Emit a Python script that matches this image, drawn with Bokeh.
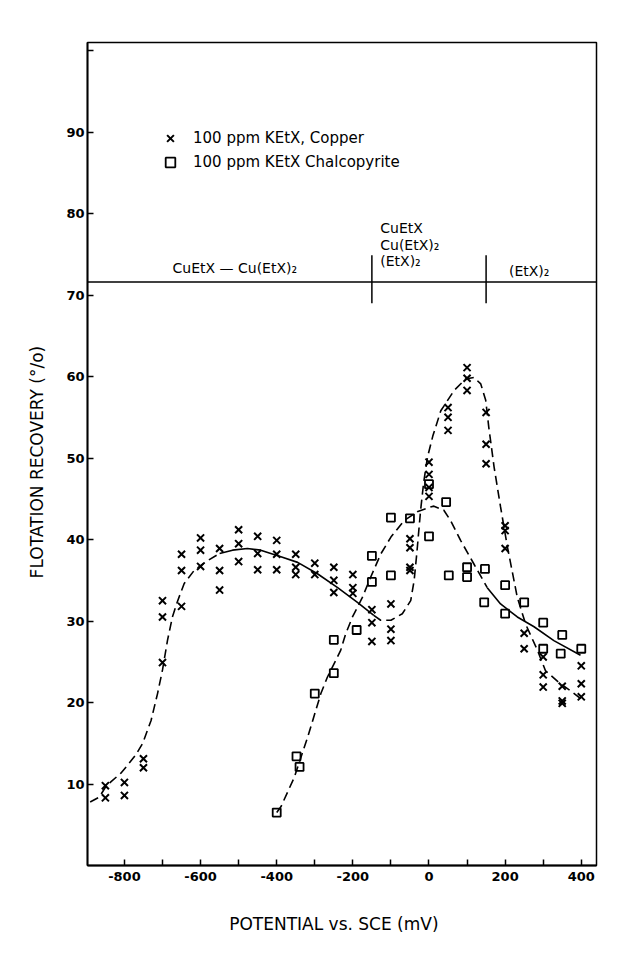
from bokeh.plotting import figure
from bokeh.models import Range1d, FixedTicker, Span, Legend, LegendItem, Label
from bokeh.embed import file_html
from bokeh.resources import INLINE

# ---------------- data ----------------
# Copper, 100 ppm KEtX  (potential mV, recovery %)
cu_x = [-850, -850, -800, -800, -750, -750,
        -700, -700, -700, -650, -650, -650, -600, -600, -600,
        -550, -550, -550, -500, -500, -500, -450, -450, -450,
        -400, -400, -400, -350, -350, -350, -300, -300,
        -250, -250, -250, -200, -200, -200, -150, -150, -150,
        -100, -100, -100, -50, -50, -50, -50, 0, 0, 0, 0,
        50, 50, 50, 100, 100, 100, 150, 150, 150, 200, 200, 200,
        250, 250, 300, 300, 300, 350, 350, 350, 400, 400, 400]
cu_y = [9.8, 8.3, 10.2, 8.6, 13.1, 12.0,
        32.5, 30.5, 24.9, 38.2, 36.2, 31.8, 40.2, 38.7, 36.7,
        38.9, 36.2, 33.8, 41.2, 39.5, 37.3, 40.4, 38.3, 36.3,
        39.9, 38.2, 36.3, 38.2, 36.6, 35.7, 37.1, 35.7,
        36.6, 35.0, 33.5, 35.7, 34.1, 33.4, 31.4, 29.8, 27.5,
        32.1, 29.0, 27.6, 40.1, 39.0, 36.6, 36.2, 49.5, 48.0, 46.4, 45.3,
        56.2, 55.0, 53.4, 61.1, 59.8, 58.3, 55.6, 51.7, 49.3, 41.7, 41.1, 38.9,
        28.5, 26.6, 25.6, 23.4, 21.9, 22.0, 20.2, 19.9, 24.5, 22.3, 20.7]

# Chalcopyrite, 100 ppm KEtX
ch_x = [-400, -348, -340, -300, -250, -250, -190, -150, -150,
        -100, -100, -50, 0, 0, 45, 52, 100, 100, 147,
        145, 200, 200, 250, 300, 300, 350, 346, 400]
ch_y = [6.5, 13.4, 12.1, 21.1, 23.6, 27.7, 28.9, 38.0, 34.8,
        42.7, 35.6, 42.6, 46.8, 40.4, 44.6, 35.6, 36.6, 35.4, 36.4,
        32.3, 34.4, 30.9, 32.3, 29.8, 26.6, 28.3, 26.0, 26.6]

# Hand-drawn trend curves
cu_curve_a_x = [-890, -866, -850, -835, -810, -792, -770, -752, -730, -713,
                -700, -687, -674, -660, -643, -617, -582, -550]
cu_curve_a_y = [7.8, 8.4, 9.6, 10.3, 11.3, 12.3, 13.6, 15.0, 17.8, 21.1,
                24.0, 27.6, 30.5, 32.5, 34.6, 36.2, 37.4, 38.3]
cu_curve_b_x = [-550, -516, -477, -442, -389, -345, -293, -240, -188, -145]
cu_curve_b_y = [38.3, 38.7, 38.9, 38.7, 37.9, 37.2, 35.8, 34.1, 32.3, 30.7]
cu_curve_c_x = [-145, -127, -100, -70, -48, -39, -32, -26, -22, -14, -4, 10,
                31, 66, 96, 118, 136, 149, 157, 171, 188, 206, 232, 254,
                285, 306, 340, 376, 406]
cu_curve_c_y = [30.7, 30.1, 30.1, 30.9, 32.5, 35.0, 38.3, 41.5, 43.6, 47.0, 50.1, 52.7,
                55.8, 58.3, 59.7, 59.9, 59.1, 57.1, 53.8, 48.9, 44.0, 39.1, 32.9, 29.6,
                26.4, 23.9, 22.5, 21.3, 20.2]
ch_curve_a_x = [-400, -389, -354, -319, -284, -267, -232, -219, -201, -175,
                -153, -127, -100, -66, -31, 4, 13, 39, 57, 83, 118, 153]
ch_curve_a_y = [6.5, 7.2, 10.8, 15.7, 21.1, 23.1, 26.4, 28.4, 30.5, 32.9,
                35.4, 38.2, 40.3, 42.3, 43.4, 44.0, 44.1, 43.6, 42.3, 39.9, 37.0, 34.1]
ch_curve_b_x = [153, 188, 232, 276, 328, 398]
ch_curve_b_y = [34.1, 32.1, 30.5, 29.3, 27.6, 25.8]

region_bounds = [-150, 150]
phase_line = 71.6

x_ticks = [-800, -700, -600, -500, -400, -300, -200, -100, 0, 100, 200, 300, 400]
x_tick_labels = {-800: "-800", -700: "", -600: "-600", -500: "", -400: "-400",
                 -300: "", -200: "-200", -100: "", 0: "0", 100: "", 200: "200",
                 300: "", 400: "400"}
y_ticks = [10, 20, 30, 40, 50, 60, 70, 80, 90, 100]
y_tick_labels = {10: "10", 20: "20", 30: "30", 40: "40", 50: "50", 60: "60",
                 70: "70", 80: "80", 90: "90", 100: ""}

FONT = "DejaVu Sans"

# ---------------- figure ----------------
p = figure(width=637, height=956, x_range=Range1d(-897, 440), y_range=Range1d(0, 101),
           output_backend="svg", toolbar_location=None,
           min_border_left=87, min_border_right=41, min_border_top=42, min_border_bottom=91)
p.grid.visible = False
p.outline_line_color = "black"
p.outline_line_width = 1.5
p.background_fill_color = "white"
p.border_fill_color = "white"

for ax in (p.xaxis[0], p.yaxis[0]):
    ax.axis_line_width = 1.8
    ax.axis_line_color = "black"
    ax.major_tick_in = 6
    ax.major_tick_out = 0
    ax.major_tick_line_width = 1.5
    ax.minor_tick_line_color = None
    ax.major_label_text_font = FONT
    ax.major_label_text_font_size = "13px"
    ax.major_label_text_font_style = "bold"
    ax.major_label_text_color = "black"
    ax.axis_label_text_font = FONT
    ax.axis_label_text_font_style = "normal"
    ax.axis_label_text_font_size = "17px"
    ax.axis_label_text_color = "black"

p.xaxis.ticker = FixedTicker(ticks=x_ticks)
p.xaxis.major_label_overrides = x_tick_labels
p.xaxis.major_label_standoff = 6
p.xaxis.axis_label = "POTENTIAL   vs. SCE  (mV)"
p.xaxis.axis_label_standoff = 30

p.yaxis.ticker = FixedTicker(ticks=y_ticks)
p.yaxis.major_label_overrides = y_tick_labels
p.yaxis.major_label_standoff = 3
p.yaxis.axis_label = "FLOTATION   RECOVERY  (°/o)"
p.yaxis.axis_label_standoff = 16

# phase boundary line and separators
p.add_layout(Span(location=phase_line, dimension="width", line_color="black", line_width=1.6))
p.segment(x0=region_bounds, y0=[69.0, 69.0], x1=region_bounds, y1=[74.9, 74.9],
          line_color="black", line_width=1.5)

lab_kw = dict(text_font=FONT, text_font_size="14px", text_color="black")
p.add_layout(Label(x=-510, y=73.3, text="CuEtX — Cu(EtX)₂", text_align="center",
                   text_baseline="middle", **lab_kw))
p.add_layout(Label(x=-128, y=78.2, text="CuEtX", text_align="left", text_baseline="middle", **lab_kw))
p.add_layout(Label(x=-128, y=76.2, text="Cu(EtX)₂", text_align="left", text_baseline="middle", **lab_kw))
p.add_layout(Label(x=-128, y=74.2, text="(EtX)₂", text_align="left", text_baseline="middle", **lab_kw))
p.add_layout(Label(x=210, y=72.9, text="(EtX)₂", text_align="left", text_baseline="middle", **lab_kw))

# curves
dash = "9 5"
p.line(cu_curve_a_x, cu_curve_a_y, line_color="black", line_width=1.6, line_dash=dash)
p.line(cu_curve_b_x, cu_curve_b_y, line_color="black", line_width=1.6)
p.line(cu_curve_c_x, cu_curve_c_y, line_color="black", line_width=1.6, line_dash=dash)
p.line(ch_curve_a_x, ch_curve_a_y, line_color="black", line_width=1.6, line_dash=dash)
p.line(ch_curve_b_x, ch_curve_b_y, line_color="black", line_width=1.6)

# points
cu_r = p.scatter(cu_x, cu_y, marker="x", size=10, line_color="black", line_width=2)
ch_r = p.scatter(ch_x, ch_y, marker="square", size=8, line_color="black",
                 fill_color=None, line_width=1.8)

legend = Legend(items=[LegendItem(label="100 ppm KEtX, Copper", renderers=[cu_r]),
                       LegendItem(label="100 ppm KEtX Chalcopyrite", renderers=[ch_r])],
                location=(71, 691), orientation="vertical",
                border_line_color=None, background_fill_alpha=0,
                padding=0, margin=0, spacing=0,
                glyph_width=24, glyph_height=24, label_height=24,
                label_standoff=11, label_text_font=FONT,
                label_text_font_size="15px", label_text_color="black")
p.add_layout(legend)

open("out.html", "w").write(file_html(p, INLINE))
